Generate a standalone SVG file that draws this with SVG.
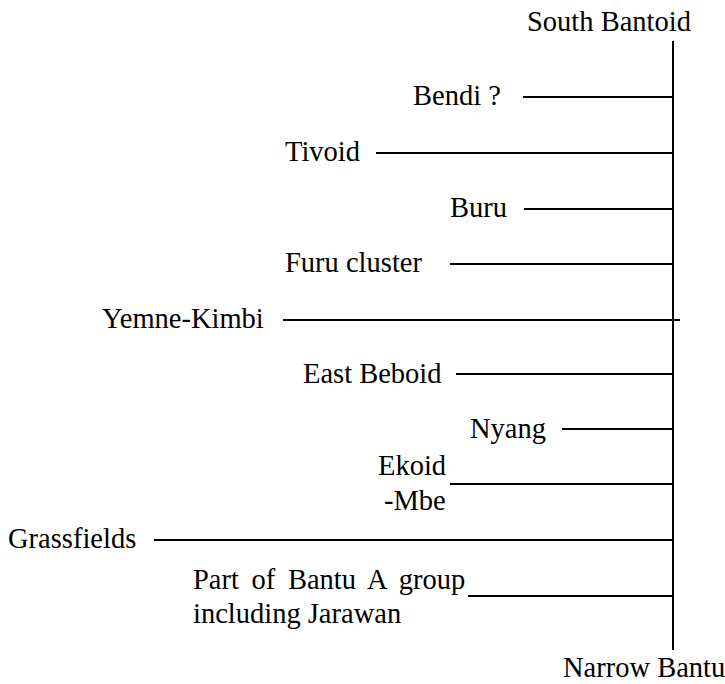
<svg xmlns="http://www.w3.org/2000/svg" width="725" height="684" viewBox="0 0 725 684">
<style>
text{font-family:"Liberation Serif","Times New Roman",serif;font-size:28.5px;fill:#000}
line{stroke:#000;stroke-width:2}
</style>
<rect width="725" height="684" fill="#fff"/>
<g id="connectors">
<line x1="673" y1="41" x2="673" y2="650"/>
<line x1="523" y1="97" x2="673" y2="97"/>
<line x1="376" y1="153" x2="673" y2="153"/>
<line x1="524" y1="209" x2="673" y2="209"/>
<line x1="450" y1="264" x2="673" y2="264"/>
<line x1="283" y1="320" x2="680" y2="320"/>
<line x1="456" y1="374" x2="673" y2="374"/>
<line x1="562" y1="429" x2="673" y2="429"/>
<line x1="450" y1="484" x2="673" y2="484"/>
<line x1="154" y1="540" x2="673" y2="540"/>
<line x1="468" y1="596" x2="673" y2="596"/>
</g>
<g id="south-bantoid"><text x="527" y="31">South Bantoid</text></g>
<g id="bendi"><text x="413" y="105">Bendi ?</text></g>
<g id="tivoid"><text x="285" y="161">Tivoid</text></g>
<g id="buru"><text x="450" y="217">Buru</text></g>
<g id="furu"><text x="285" y="272">Furu cluster</text></g>
<g id="yemne-kimbi"><text x="102" y="328">Yemne-Kimbi</text></g>
<g id="east-beboid"><text x="303" y="383">East Beboid</text></g>
<g id="nyang"><text x="470" y="438">Nyang</text></g>
<g id="ekoid-mbe"><text x="378" y="475">Ekoid</text><text x="384" y="510">-Mbe</text></g>
<g id="grassfields"><text x="8" y="548">Grassfields</text></g>
<g id="bantu-a"><text x="193" y="589" word-spacing="5.5">Part of Bantu A group</text><text x="193" y="623">including Jarawan</text></g>
<g id="narrow-bantu"><text x="563" y="677">Narrow Bantu</text></g>
</svg>
